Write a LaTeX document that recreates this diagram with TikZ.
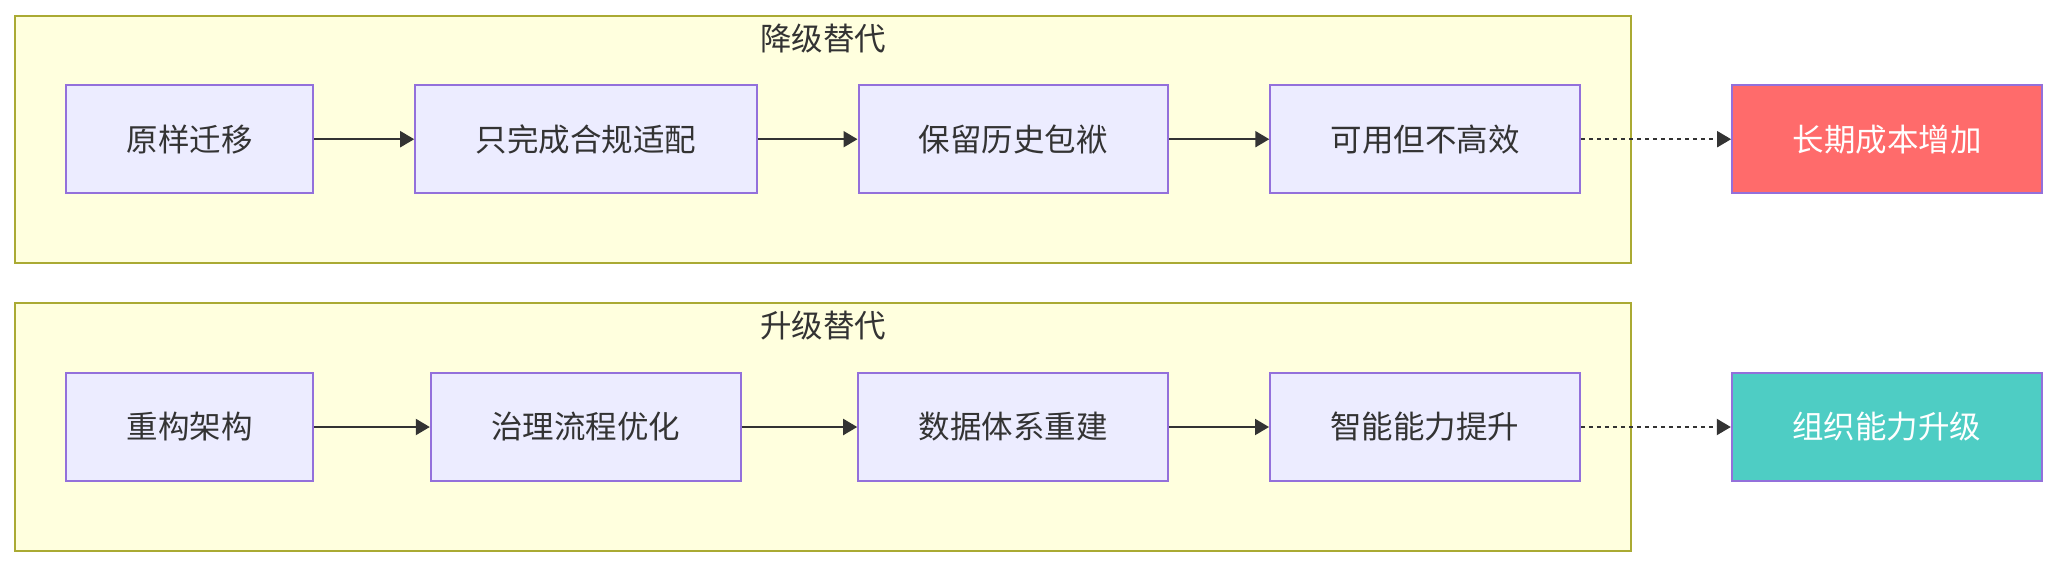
\documentclass[tikz,border=0pt]{standalone}
\usepackage{fontspec}
\setmainfont{Noto Sans CJK SC}
\usetikzlibrary{arrows.meta,fit,positioning,backgrounds}
\definecolor{Ink}{HTML}{333333}
\definecolor{Lavender}{HTML}{ECECFF}
\definecolor{Violet}{HTML}{9370DB}
\definecolor{Cream}{HTML}{FFFFDE}
\definecolor{Olive}{HTML}{AAAA33}
\definecolor{Coral}{HTML}{FF6B6B}
\definecolor{Teal}{HTML}{4ECDC4}

\begin{document}
\begin{tikzpicture}[>={Triangle[length=7pt,width=8pt]},
    font=\fontsize{15.75pt}{18pt}\selectfont,
    box/.style={draw=Violet,fill=Lavender,line width=1pt,text=Ink,
                minimum height=54pt,inner xsep=30.2pt,inner ysep=0pt},
    outcome/.style={box,text=white},
    group/.style={draw=Olive,fill=Cream,line width=1pt,
                  inner xsep=25pt,inner ysep=34.3pt},
    grouptitle/.style={text=Ink,inner sep=0pt},
    flow/.style={->,draw=Ink,line width=1pt},
    hint/.style={flow,dash pattern=on 2pt off 2pt}]
      \useasboundingbox (0,0) rectangle (1030pt,-284pt);

      % 降级替代
      \node[box] (a1) at (94.9pt,-69.6pt) {原样迁移};
      \node[box,right=50pt of a1] (a2) {只完成合规适配};
      \node[box,right=50pt of a2] (a3) {保留历史包袱};
      \node[box,right=50pt of a3] (a4) {可用但不高效};
      \node[outcome,fill=Coral,right=75pt of a4] (a5) {长期成本增加};

      % 升级替代
      \node[box] (b1) at (94.9pt,-213.5pt) {重构架构};
      \node[box,right=57.8pt of b1] (b2) {治理流程优化};
      \node[box,right=57.8pt of b2] (b3) {数据体系重建};
      \node[box,right=50pt of b3] (b4) {智能能力提升};
      \node[outcome,fill=Teal,right=75pt of b4] (b5) {组织能力升级};

      \begin{scope}[on background layer]
        \node[group,fit=(a1)(a4)] (ga) {};
        \node[group,fit=(b1)(b4)] (gb) {};
      \end{scope}
      \node[grouptitle] (ta) at ([yshift=-11.8pt]ga.north) {降级替代};
      \node[grouptitle] (tb) at ([yshift=-11.8pt]gb.north) {升级替代};

      \draw[flow] (a1) -- (a2);
      \draw[flow] (a2) -- (a3);
      \draw[flow] (a3) -- (a4);
      \draw[hint] (a4) -- (a5);
      \draw[flow] (b1) -- (b2);
      \draw[flow] (b2) -- (b3);
      \draw[flow] (b3) -- (b4);
      \draw[hint] (b4) -- (b5);
    \end{tikzpicture}
\end{document}
